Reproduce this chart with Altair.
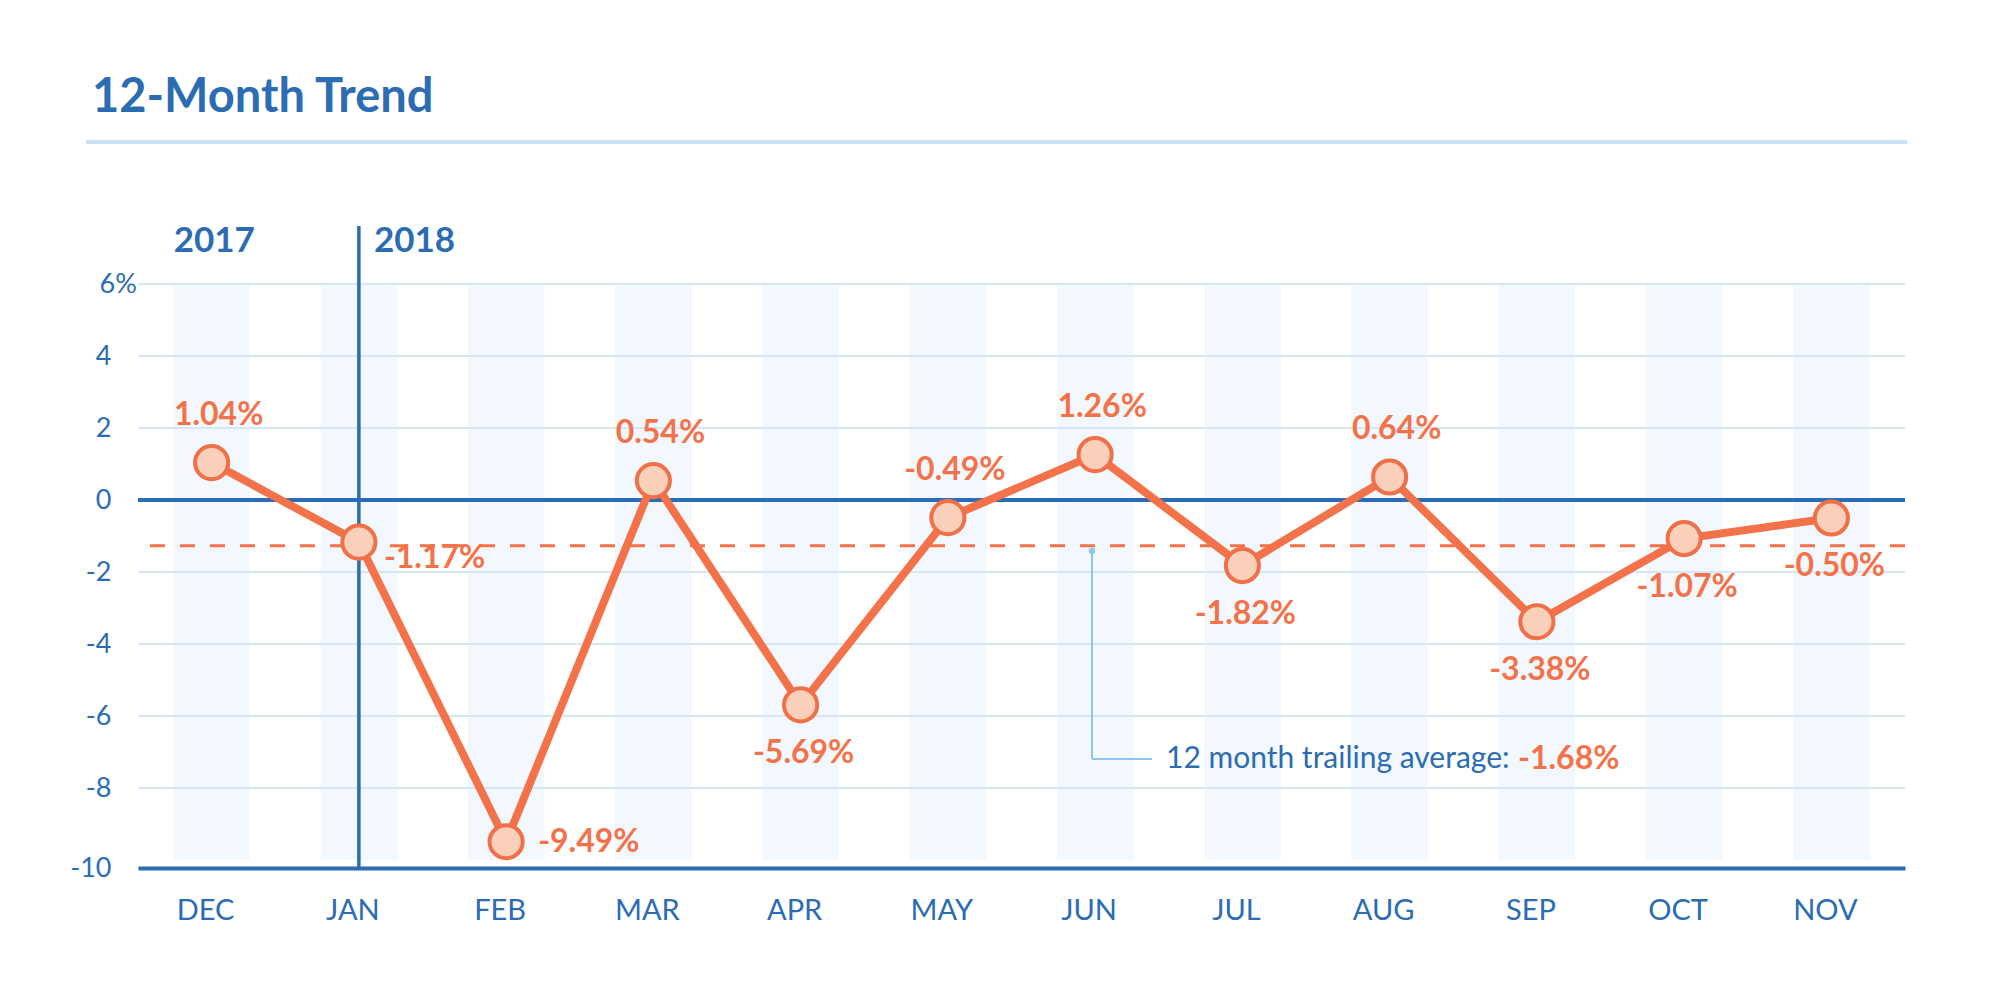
import altair as alt
import pandas as pd

# ---------------- data ----------------
months = ["DEC", "JAN", "FEB", "MAR", "APR", "MAY", "JUN", "JUL", "AUG", "SEP", "OCT", "NOV"]
values = [1.04, -1.17, -9.49, 0.54, -5.69, -0.49, 1.26, -1.82, 0.64, -3.38, -1.07, -0.50]
label_side = ["top", "right_low", "right", "top", "bottom", "top", "top",
              "bottom", "top", "bottom", "bottom", "bottom"]
grid_values = [6, 4, 2, -2, -4, -6, -8]
axis_values = [6, 4, 2, 0, -2, -4, -6, -8, -10.22]
y_domain = [-10.22, 6]
avg_line_value = -1.27          # where the dashed line is drawn in the picture
avg_text = "12 month trailing average:"
avg_value_text = "-1.68%"
years = ["2017", "2018"]
year_months = ["DEC", "JAN"]
title_text = "12-Month Trend"

# ---------------- styles ----------------
BLUE = "#2B6CB3"
LIGHT_GRID = "#D5E7F6"
BAND = "#F2F8FD"
ORANGE = "#F3724A"
DOT_FILL = "#FAD0BB"
DOT_STROKE = "#F07048"
ANNOT = "#8EC5EC"
FONT = "Lato"

W, H = 1767, 584

df = pd.DataFrame({
    "month": months,
    "value": values,
    "label": [f"{v:.2f}%" for v in values],
    "side": label_side,
})

xscale = alt.Scale(type="band", domain=months, paddingInner=0.48, paddingOuter=0.24)
yscale = alt.Scale(domain=y_domain, nice=False, zero=False)

xaxis = alt.Axis(title=None, ticks=False, labelPadding=42, labelBaseline="middle",
                 labelAngle=0, labelAlign="center", labelOffset=-6,
                 domain=True, grid=False)
yaxis = alt.Axis(
    title=None, values=axis_values, grid=False, ticks=False, domain=False,
    labelExpr="datum.value == 6 ? '6%' : (datum.value < -10 ? '-10' : '' + datum.value)",
    labelAlign={"condition": {"test": "datum.value == 6", "value": "left"}, "value": "right"},
    labelPadding={"condition": {"test": "datum.value == 6", "value": 39}, "value": 27},
)

X = alt.X("month:N", sort=months, scale=xscale, axis=xaxis, title=None)


def Yf(field):
    return alt.Y(field, scale=yscale, axis=yaxis, title=None)


base = alt.Chart(df)

bands = base.mark_bar(color=BAND).encode(
    x=X,
    y=alt.Y(datum=6, scale=yscale, axis=yaxis, title=None),
    y2=alt.datum(-10),
)

grid = alt.Chart(pd.DataFrame({"value": grid_values})).mark_rule(
    color=LIGHT_GRID, strokeWidth=2
).encode(y=Yf("value:Q"))

zero = alt.Chart(pd.DataFrame({"value": [0]})).mark_rule(
    color=BLUE, strokeWidth=4
).encode(y=Yf("value:Q"))

avg = alt.Chart(pd.DataFrame({"value": [avg_line_value]})).mark_rule(
    color=ORANGE, strokeWidth=3, strokeDash=[15, 15]
).encode(y=Yf("value:Q"))

year_df = pd.DataFrame({"month": year_months, "year": years})
year_line = alt.Chart(year_df[year_df["month"] == "JAN"]).mark_rule(
    color=BLUE, strokeWidth=3.5
).encode(x=X, y=alt.value(-58), y2=alt.value(H))

year_2017 = alt.Chart(year_df[year_df["month"] == "DEC"]).mark_text(
    font=FONT, fontSize=35, fontWeight="bold", color=BLUE, align="left",
    baseline="alphabetic", dx=-38
).encode(x=X, y=alt.value(-32), text="year:N")

year_2018 = alt.Chart(year_df[year_df["month"] == "JAN"]).mark_text(
    font=FONT, fontSize=35, fontWeight="bold", color=BLUE, align="left",
    baseline="alphabetic", dx=15
).encode(x=X, y=alt.value(-32), text="year:N")

line = base.mark_line(color=ORANGE, strokeWidth=8).encode(x=X, y=Yf("value:Q"))

points = base.mark_circle(size=1100, fill=DOT_FILL, stroke=DOT_STROKE,
                          strokeWidth=4, opacity=1).encode(x=X, y=Yf("value:Q"))


def label_layer(side, **kw):
    return base.transform_filter(alt.datum.side == side).mark_text(
        font=FONT, fontSize=32, fontWeight="bold", color=ORANGE, **kw
    ).encode(x=X, y=Yf("value:Q"), text="label:N")


lab_top = label_layer("top", align="center", baseline="middle", dx=7, dy=-48)
lab_bottom = label_layer("bottom", align="center", baseline="middle", dx=3, dy=48)
lab_right = label_layer("right", align="left", baseline="middle", dx=32, dy=0)
lab_right_low = label_layer("right_low", align="left", baseline="middle", dx=25, dy=16)

# annotation for the trailing average
one = pd.DataFrame({"t": [title_text], "a": [avg_text], "b": [avg_value_text]})
ann_v = alt.Chart(one).mark_rule(color=ANNOT, strokeWidth=2).encode(
    x=alt.value(954), y=alt.value(267), y2=alt.value(475))
ann_h = alt.Chart(one).mark_rule(color=ANNOT, strokeWidth=2).encode(
    x=alt.value(954), x2=alt.value(1014), y=alt.value(475))
ann_dot = alt.Chart(one).mark_circle(color=ANNOT, size=40, opacity=1).encode(
    x=alt.value(954), y=alt.value(267))
ann_text = alt.Chart(one).mark_text(
    font=FONT, fontSize=30, color=BLUE, align="left", baseline="middle"
).encode(x=alt.value(1028), y=alt.value(475), text="a:N")
ann_val = alt.Chart(one).mark_text(
    font=FONT, fontSize=32, fontWeight="bold", color=ORANGE, align="left", baseline="middle"
).encode(x=alt.value(1380), y=alt.value(475), text="b:N")

title = alt.Chart(one).mark_text(
    font=FONT, fontSize=47, fontWeight="bold", color=BLUE, align="left", baseline="alphabetic"
).encode(x=alt.value(-46), y=alt.value(-172), text="t:N")
title_rule = alt.Chart(one).mark_rule(color="#C8E1F5", strokeWidth=4).encode(
    x=alt.value(-52), x2=alt.value(1769), y=alt.value(-142))

chart = alt.layer(
    bands, grid, zero, avg, year_line, ann_v, ann_h, ann_dot,
    line, points, lab_top, lab_bottom, lab_right, lab_right_low,
    year_2017, year_2018, ann_text, ann_val, title, title_rule,
).properties(
    width=W, height=H,
    autosize=alt.AutoSizeParams(type="none"),
    padding={"left": 130, "top": 276, "right": 80, "bottom": 120},
).configure_view(strokeWidth=0).configure_axis(
    labelFont=FONT, labelFontSize=27, labelColor=BLUE,
).configure_axisX(
    domainColor=BLUE, domainWidth=4, labelFontSize=29,
)

chart.save("out.html", embed_options={"renderer": "svg", "actions": False})
